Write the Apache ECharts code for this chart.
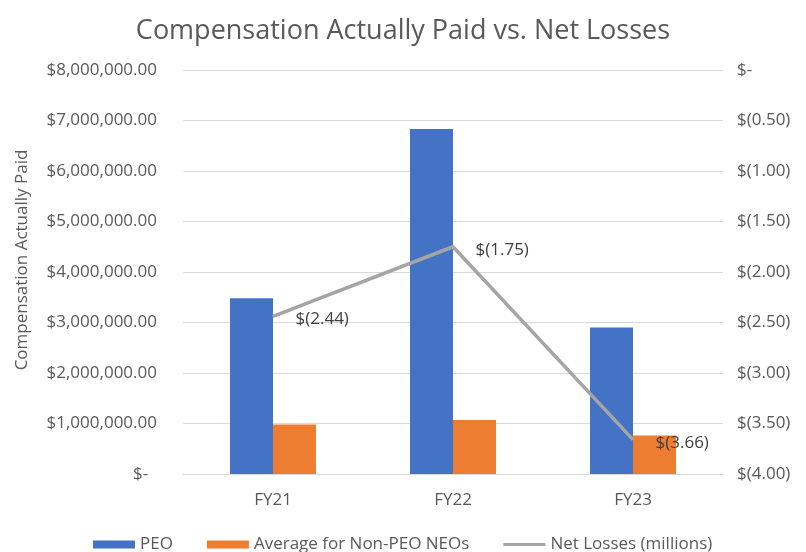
<!DOCTYPE html>
<html>
<head>
    <meta charset="utf-8">
    <script src="https://cdn.jsdelivr.net/npm/echarts@6/dist/echarts.min.js"></script>
    <style>
        html, body { margin: 0; padding: 0; background: #fff; }
        #main { width: 806px; height: 552px; }
    </style>
</head>
<body>
    <div id="main"></div>
    <script>
        var years = ['FY21', 'FY22', 'FY23'];
        var peoPaid = [3480000, 6830000, 2900000];
        var neoPaid = [980000, 1070000, 760000];
        var netLosses = [-2.44, -1.75, -3.66];

        var textColor = '#595959';
        var font = 'Open Sans';

        function leftFmt(v) {
            if (v === 0) {
                return '$-  ';
            }
            return '$' + v.toLocaleString('en-US') + '.00';
        }

        function rightFmt(v) {
            if (v === 0) {
                return '$-';
            }
            return '$(' + Math.abs(v).toFixed(2) + ')';
        }

        var chart = echarts.init(document.getElementById('main'));

        var option = {
            animation: false,
            title: {
                text: 'Compensation Actually Paid vs. Net Losses',
                left: 'center',
                top: 13,
                textStyle: {
                    fontFamily: font,
                    fontSize: 27,
                    fontWeight: 'normal',
                    color: textColor
                }
            },
            legend: {
                left: 93,
                top: 536,
                padding: 0,
                itemWidth: 42,
                itemHeight: 8,
                itemGap: 34,
                textStyle: {
                    fontFamily: font,
                    fontSize: 17,
                    color: textColor
                },
                data: [
                    {name: 'PEO', icon: 'rect'},
                    {name: 'Average for Non-PEO NEOs', icon: 'rect'},
                    {
                        name: 'Net Losses (millions)',
                        // thin bar inside an 8px tall box
                        icon: 'path://M0,0 L42,0 Z M0,2.5 L42,2.5 L42,5.5 L0,5.5 Z M0,8 L42,8 Z',
                        itemStyle: {color: '#a5a5a5'}
                    }
                ]
            },
            grid: {
                left: 183,
                right: 83,
                top: 70,
                bottom: 78
            },
            xAxis: {
                type: 'category',
                data: years,
                axisTick: {show: false},
                axisLine: {lineStyle: {color: '#d9d9d9'}},
                axisLabel: {
                    margin: 18,
                    fontFamily: font,
                    fontSize: 17,
                    color: textColor
                }
            },
            yAxis: [
                {
                    type: 'value',
                    min: 0,
                    max: 8000000,
                    interval: 1000000,
                    name: 'Compensation Actually Paid',
                    nameLocation: 'middle',
                    nameGap: 152,
                    nameTextStyle: {
                        fontFamily: font,
                        fontSize: 17,
                        color: textColor,
                        padding: [0, 0, 0, 24]
                    },
                    axisLine: {show: false},
                    axisTick: {show: false},
                    splitLine: {lineStyle: {color: '#d9d9d9'}},
                    axisLabel: {
                        margin: 26,
                        fontFamily: font,
                        fontSize: 17,
                        color: textColor,
                        formatter: leftFmt
                    }
                },
                {
                    type: 'value',
                    min: -4,
                    max: 0,
                    interval: 0.5,
                    axisLine: {show: false},
                    axisTick: {show: false},
                    splitLine: {show: false},
                    axisLabel: {
                        margin: 14,
                        fontFamily: font,
                        fontSize: 17,
                        color: textColor,
                        formatter: rightFmt
                    }
                }
            ],
            series: [
                {
                    name: 'PEO',
                    type: 'bar',
                    data: peoPaid,
                    barWidth: 43,
                    barGap: '0%',
                    itemStyle: {color: '#4472c4'}
                },
                {
                    name: 'Average for Non-PEO NEOs',
                    type: 'bar',
                    data: neoPaid,
                    barWidth: 43,
                    barGap: '0%',
                    itemStyle: {color: '#ed7d31'}
                },
                {
                    name: 'Net Losses (millions)',
                    type: 'line',
                    yAxisIndex: 1,
                    data: netLosses,
                    symbol: 'circle',
                    symbolSize: 1,
                    itemStyle: {color: '#a5a5a5'},
                    lineStyle: {color: '#a5a5a5', width: 3.5},
                    label: {
                        show: true,
                        position: 'right',
                        distance: 22,
                        offset: [0, 3],
                        fontFamily: font,
                        fontSize: 17,
                        color: '#404040',
                        formatter: function (p) {
                            return rightFmt(p.value);
                        }
                    }
                }
            ]
        };

        chart.setOption(option);
    </script>
</body>
</html>
